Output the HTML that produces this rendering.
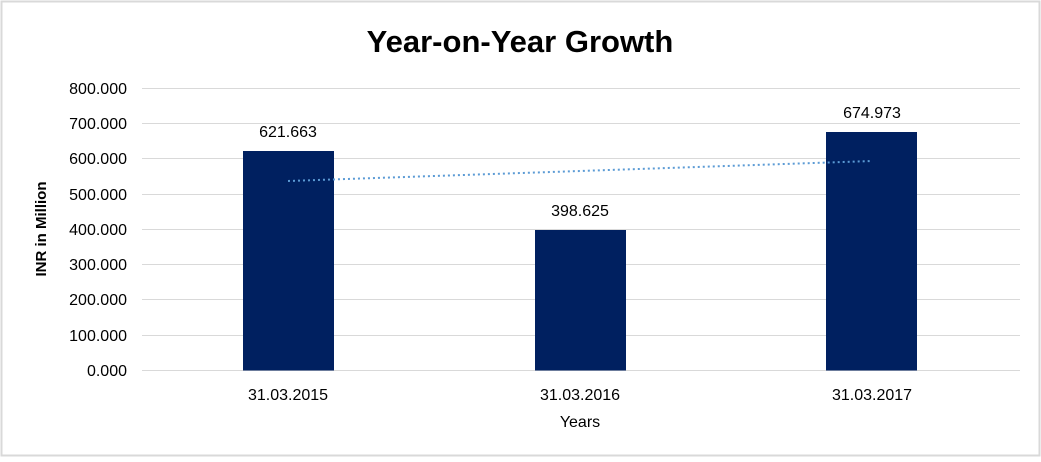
<!DOCTYPE html>
<html><head><style>
html,body{margin:0;padding:0;background:#fff}
</style></head><body>
<svg width="1041" height="457" xmlns="http://www.w3.org/2000/svg" font-family="Liberation Sans, Arial, sans-serif">
<rect x="1.5" y="1.5" width="1038" height="454" fill="#fff" stroke="#d9d9d9" stroke-width="2"/>
<text x="520" y="52" font-size="31" font-weight="bold" text-anchor="middle" fill="#000">Year-on-Year Growth</text>
<g stroke="#d9d9d9" stroke-width="1">
<line x1="142" x2="1020" y1="88.5" y2="88.5"/>
<line x1="142" x2="1020" y1="123.5" y2="123.5"/>
<line x1="142" x2="1020" y1="158.5" y2="158.5"/>
<line x1="142" x2="1020" y1="194.5" y2="194.5"/>
<line x1="142" x2="1020" y1="229.5" y2="229.5"/>
<line x1="142" x2="1020" y1="264.5" y2="264.5"/>
<line x1="142" x2="1020" y1="299.5" y2="299.5"/>
<line x1="142" x2="1020" y1="335.5" y2="335.5"/>
<line x1="142" x2="1020" y1="370.5" y2="370.5"/>
</g>
<g font-size="16" text-anchor="end" fill="#000">
<text x="127" y="94">800.000</text>
<text x="127" y="129">700.000</text>
<text x="127" y="164">600.000</text>
<text x="127" y="200">500.000</text>
<text x="127" y="235">400.000</text>
<text x="127" y="270">300.000</text>
<text x="127" y="305">200.000</text>
<text x="127" y="341">100.000</text>
<text x="127" y="376">0.000</text>
</g>
<text transform="translate(46,229) rotate(-90)" font-size="15" font-weight="bold" text-anchor="middle">INR in Million</text>
<g fill="#002060">
<rect x="243" y="151" width="91" height="219.5"/>
<rect x="535" y="230" width="91" height="140.5"/>
<rect x="826" y="132" width="91" height="238.5"/>
</g>
<line x1="288" y1="181" x2="872" y2="161" stroke="#5b9bd5" stroke-width="2" stroke-dasharray="2,3"/>
<g font-size="16" text-anchor="middle" fill="#000">
<text x="288" y="137">621.663</text>
<text x="580" y="216">398.625</text>
<text x="872" y="118">674.973</text>
<text x="288" y="400">31.03.2015</text>
<text x="580" y="400">31.03.2016</text>
<text x="872" y="400">31.03.2017</text>
<text x="580" y="427">Years</text>
</g>
</svg>
</body></html>
